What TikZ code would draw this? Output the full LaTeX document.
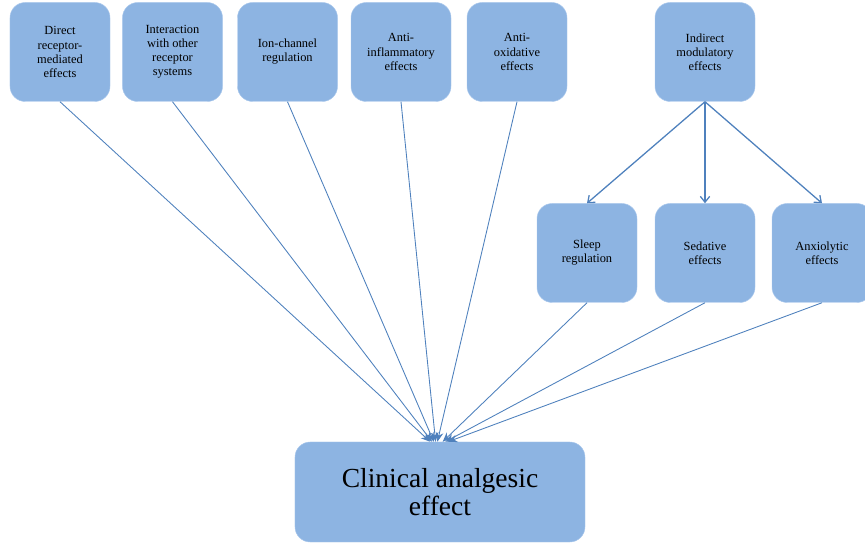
\documentclass[tikz,border=0pt]{standalone}
\usepackage{fontspec}
\setmainfont{Liberation Serif}
\usetikzlibrary{arrows.meta,positioning}

\definecolor{boxblue}{RGB}{141,180,226}
\definecolor{boxedge}{RGB}{170,200,236}
\definecolor{linkblue}{RGB}{79,129,189}

\begin{document}
\begin{tikzpicture}[>=Stealth, x=0.03cm, y=-0.03cm,
    factor/.style={draw=boxedge, fill=boxblue, rounded corners=13pt, align=center,
      minimum width=3cm, minimum height=2.97cm, inner sep=2pt,
      font=\fontsize{10.6}{12}\selectfont},
    outcome/.style={factor, minimum width=8.7cm, minimum height=3cm,
      font=\fontsize{23.5}{24.5}\selectfont},
    link/.style={linkblue, line width=0.75pt, -{Stealth[length=8pt,width=6.5pt]}},
    sub/.style={linkblue, line width=1.1pt, -{Straight Barb[length=5pt,width=8pt]}}]
  \useasboundingbox (0,0) rectangle (865,545);
  % top row
  \node[factor] (direct) at (60,52) {Direct\\receptor-\\mediated\\effects};
  \node[factor] (inter) at (172.5,52) {Interaction\\with other\\receptor\\systems};
  \node[factor] (ion) at (287.5,52) {Ion-channel\\regulation};
  \node[factor] (inflam) at (401,52) {Anti-\\inflammatory\\effects};
  \node[factor] (oxid) at (517,52) {Anti-\\oxidative\\effects};
  \node[factor] (indirect) at (705,52) {Indirect\\modulatory\\effects};
  % second row
  \node[factor] (sleep) at (587,253) {Sleep\\regulation};
  \node[factor] (sedat) at (705,253) {Sedative\\effects};
  \node[factor] (anxio) at (822,253) {Anxiolytic\\effects};
  % result
  \node[outcome] (clin) at (440,492) {Clinical analgesic\\effect};

  \draw[sub] (indirect.south) -- (sleep.north);
  \draw[sub] (indirect.south) -- (sedat.north);
  \draw[sub] (indirect.south) -- (anxio.north);

  \draw[link] (direct.south) -- (clin.101);
  \draw[link] (inter.south) -- (clin.99);
  \draw[link] (ion.south) -- (clin.97);
  \draw[link] (inflam.south) -- (clin.95);
  \draw[link] (oxid.south) -- (clin.93);
  \draw[link] (sleep.south) -- (clin.87);
  \draw[link] (sedat.south) -- (clin.84);
  \draw[link] (anxio.south) -- (clin.81);
\end{tikzpicture}
\end{document}
